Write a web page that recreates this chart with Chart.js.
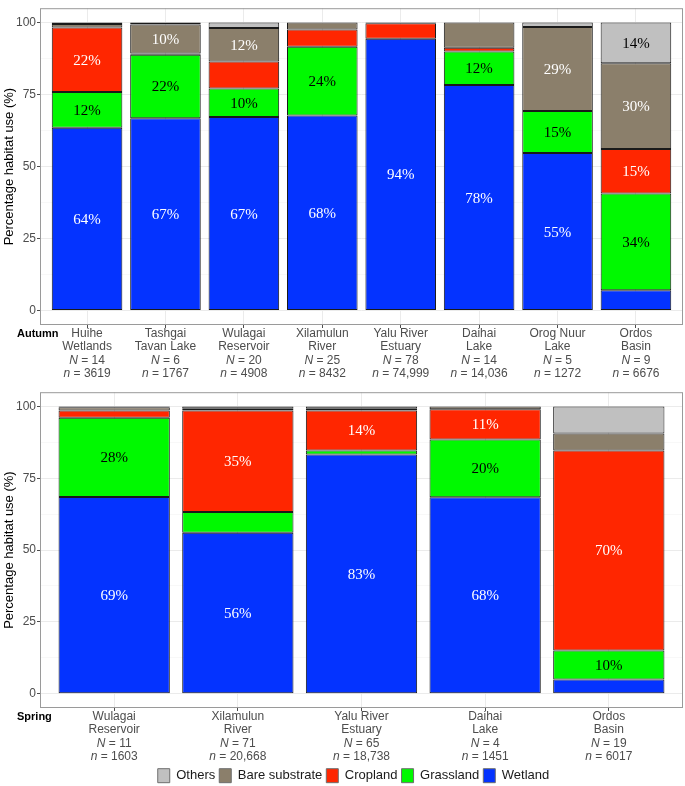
<!DOCTYPE html>
<html>
<head>
<meta charset="utf-8">
<script src="https://cdn.jsdelivr.net/npm/chart.js@4.4.1/dist/chart.umd.min.js"></script>
<style>
  html, body { margin: 0; padding: 0; background: #fff; overflow: hidden; }
  #wrap { position: relative; width: 685px; height: 786px; overflow: hidden; }
  canvas { position: absolute; left: 0; }
  #autumnChart { top: 0; }
  #springChart { top: 384px; }
</style>
</head>
<body>
<div id="wrap">
  <canvas id="autumnChart" width="685" height="384" style="width:685px;height:384px"></canvas>
  <canvas id="springChart" width="685" height="420" style="width:685px;height:420px"></canvas>
</div>
<script>
// autumn panel
const autumnSites = [["Huihe", "Wetlands"], ["Tashgai", "Tavan Lake"], ["Wulagai", "Reservoir"],
    ["Xilamulun", "River"], ["Yalu River", "Estuary"], ["Daihai", "Lake"], ["Orog Nuur", "Lake"], ["Ordos", "Basin"]];
const autumnBirds = [14, 6, 20, 25, 78, 14, 5, 9];
const autumnFixes = ["3619", "1767", "4908", "8432", "74,999", "14,036", "1272", "6676"];
const autumnWetland = [63.5, 66.8, 67.2, 67.7, 94.4, 78.3, 54.7, 7.1];
const autumnGrassland = [12.4, 22.0, 9.9, 23.9, 0, 11.7, 14.6, 33.6];
const autumnCropland = [22.4, 0.5, 9.4, 6.0, 5.4, 1.3, 0, 15.4];
const autumnBare = [1.2, 10.0, 11.6, 2.4, 0.1, 8.7, 29.2, 29.8];
const autumnOthers = [0.5, 0.7, 1.9, 0, 0.1, 0, 1.5, 14.1];

// spring panel
const springSites = [["Wulagai", "Reservoir"], ["Xilamulun", "River"], ["Yalu River", "Estuary"],
    ["Daihai", "Lake"], ["Ordos", "Basin"]];
const springBirds = [11, 71, 65, 4, 19];
const springFixes = ["1603", "20,668", "18,738", "1451", "6017"];
const springWetland = [68.5, 56.0, 83.3, 68.4, 4.9];
const springGrassland = [27.6, 7.3, 1.4, 20.1, 10.1];
const springCropland = [2.5, 35.3, 13.9, 10.6, 69.7];
const springBare = [1.2, 0.6, 0.6, 0.9, 5.9];
const springOthers = [0.2, 0.8, 0.8, 0, 9.4];

const habitatNames = ["Wetland", "Grassland", "Cropland", "Bare substrate", "Others"];
const yTicks = [0, 12.5, 25, 37.5, 50, 62.5, 75, 87.5, 100];

const COLORS = ["#0433FF", "#00F900", "#FF2600", "#8B7F6B", "#C0C0C0"];
const LABEL_COLORS = ["#FFFFFF", "#000000", "#FFFFFF", "#FFFFFF", "#000000"];
const SANS = "'Liberation Sans', Arial, sans-serif";
const SERIF = "'Liberation Serif', 'Times New Roman', serif";
const LINE_GAP = 13.5;

function drawItalicLine(ctx, italic, rest, cx, y) {
    ctx.font = "italic 12px " + SANS;
    const w1 = ctx.measureText(italic).width;
    ctx.font = "12px " + SANS;
    const w2 = ctx.measureText(rest).width;
    const x0 = cx - (w1 + w2) / 2;
    ctx.textAlign = "left";
    ctx.font = "italic 12px " + SANS;
    ctx.fillText(italic, x0, y);
    ctx.font = "12px " + SANS;
    ctx.fillText(rest, x0 + w1, y);
}

const panelPlugin = {
    id: "panel",
    afterLayout(chart, args, opts) {
        // ggplot centres the legend a bit left of the panel centre
        if (chart.legend && opts.legendShift) {
            chart.legend.left += opts.legendShift;
            chart.legend.right += opts.legendShift;
        }
    },
    afterDatasetsDraw(chart) {
        const ctx = chart.ctx;
        const area = chart.chartArea;
        ctx.save();
        ctx.font = "15px " + SERIF;
        ctx.textAlign = "center";
        ctx.textBaseline = "middle";
        chart.data.datasets.forEach((ds, di) => {
            chart.getDatasetMeta(di).data.forEach((bar, i) => {
                const v = Math.round(ds.data[i].y);
                if (v < 10) return;
                ctx.fillStyle = ds.labelColor;
                ctx.fillText(v + "%", bar.x, (bar.y + bar.base) / 2 + 1);
            });
        });
        ctx.strokeStyle = "#9A9A9A";
        ctx.lineWidth = 1;
        ctx.strokeRect(area.left + 0.5, area.top + 0.5, area.right - area.left - 1, area.bottom - area.top - 1);
        ctx.restore();
    },
    afterDraw(chart, args, opts) {
        const ctx = chart.ctx;
        const xs = chart.scales.x;
        const top = chart.chartArea.bottom + 8.5;
        ctx.save();
        ctx.textBaseline = "middle";
        ctx.textAlign = "left";
        ctx.fillStyle = "#000";
        ctx.font = "bold 11px " + SANS;
        ctx.fillText(opts.season, 17, top);
        ctx.fillStyle = "#4D4D4D";
        opts.sites.forEach((site, i) => {
            const cx = xs.getPixelForValue(i + 1);
            ctx.font = "12px " + SANS;
            ctx.textAlign = "center";
            site.forEach((line, j) => ctx.fillText(line, cx, top + j * LINE_GAP));
            drawItalicLine(ctx, "N", " = " + opts.birds[i], cx, top + 2 * LINE_GAP);
            drawItalicLine(ctx, "n", " = " + opts.fixes[i], cx, top + 3 * LINE_GAP);
        });
        ctx.restore();
    }
};

function makeChart(id, season, sites, birds, fixes, series, layout) {
    const datasets = series.map((vals, k) => ({
        label: habitatNames[k],
        data: vals.map((v, i) => ({ x: i + 1, y: v })),
        backgroundColor: COLORS[k],
        borderColor: "#1A1A1A",
        borderWidth: 1,
        borderSkipped: false,
        labelColor: LABEL_COLORS[k],
        categoryPercentage: 1,
        barPercentage: 0.9,
    }));

    return new Chart(document.getElementById(id), {
        type: "bar",
        data: { datasets: datasets },
        plugins: [panelPlugin],
        options: {
            responsive: false,
            animation: false,
            layout: { padding: layout.padding },
            scales: {
                x: {
                    type: "linear",
                    stacked: true,
                    bounds: "data",
                    offset: false,
                    min: 0.4,
                    max: sites.length + 0.6,
                    afterBuildTicks: (s) => { s.ticks = sites.map((c, i) => ({ value: i + 1 })); },
                    afterFit: (s) => { s.height = layout.axisHeight; },
                    border: { display: false },
                    grid: { offset: false, color: "#EBEBEB", lineWidth: 1, tickLength: 3, tickColor: "#4D4D4D" },
                    ticks: { display: false },
                },
                y: {
                    stacked: true,
                    bounds: "data",
                    min: -5,
                    max: 105,
                    afterBuildTicks: (s) => { s.ticks = yTicks.map((v) => ({ value: v })); },
                    afterFit: (s) => { s.width = 40; },
                    border: { display: false },
                    grid: {
                        color: (c) => (c.tick && c.tick.value % 25 === 0 ? "#EBEBEB" : "#F5F5F5"),
                        lineWidth: (c) => (c.tick && c.tick.value % 25 === 0 ? 1 : 0.7),
                        tickLength: 3,
                        tickColor: (c) => (c.tick && c.tick.value % 25 === 0 ? "#4D4D4D" : "rgba(0,0,0,0)"),
                    },
                    ticks: {
                        padding: 1,
                        color: "#4D4D4D",
                        font: { family: SANS, size: 12 },
                        callback: (v) => (v % 25 === 0 ? v : ""),
                    },
                    title: {
                        display: true,
                        text: "Percentage habitat use (%)",
                        color: "#000",
                        font: { family: SANS, size: 13 },
                        padding: { top: 2, bottom: 0 },
                    },
                },
            },
            plugins: {
                tooltip: { enabled: false },
                panel: { season: season, sites: sites, birds: birds, fixes: fixes, legendShift: layout.legendShift },
                legend: {
                    display: layout.legend,
                    position: "bottom",
                    fullSize: false,
                    reverse: true,
                    labels: {
                        boxWidth: 12,
                        boxHeight: 14,
                        padding: 4,
                        color: "#1A1A1A",
                        font: { family: SANS, size: 13 },
                        generateLabels: (chart) => Chart.defaults.plugins.legend.labels.generateLabels(chart)
                            .map((item) => Object.assign(item, { strokeStyle: "#6E6E6E", lineWidth: 1 })),
                    },
                },
            },
        },
    });
}

makeChart("autumnChart", "Autumn", autumnSites, autumnBirds, autumnFixes,
    [autumnWetland, autumnGrassland, autumnCropland, autumnBare, autumnOthers],
    { padding: { top: 3, right: 2, left: 0, bottom: 0 }, axisHeight: 59, legend: false, legendShift: 0 });

makeChart("springChart", "Spring", springSites, springBirds, springFixes,
    [springWetland, springGrassland, springCropland, springBare, springOthers],
    { padding: { top: 1, right: 2, left: 0, bottom: 11.3 }, axisHeight: 56.7, legend: true, legendShift: -8 });
</script>
</body>
</html>
